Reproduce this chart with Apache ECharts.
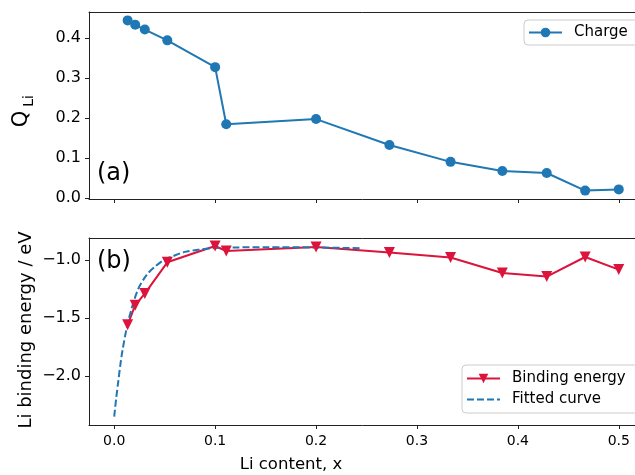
<!DOCTYPE html>
<html>
<head>
<meta charset="utf-8">
<script src="https://cdn.jsdelivr.net/npm/echarts@6/dist/echarts.min.js"></script>
<style>html,body{margin:0;padding:0;background:#fff}#c{width:635px;height:475px}</style>
</head>
<body>
<div id="c"></div>
<script>
// ---- data ----
var liContent = [0.0133, 0.0208, 0.0303, 0.0526, 0.1, 0.111, 0.2, 0.2727, 0.3333, 0.3846, 0.4286, 0.4667, 0.5];
var chargeQ   = [0.444, 0.433, 0.421, 0.394, 0.327, 0.184, 0.197, 0.132, 0.090, 0.067, 0.062, 0.018, 0.021];
var bindingE  = [-1.56, -1.39, -1.29, -1.02, -0.879, -0.922, -0.888, -0.936, -0.979, -1.112, -1.143, -0.974, -1.083];
var fitX = [0, 0.002, 0.004, 0.006, 0.008, 0.0123, 0.0172, 0.0238, 0.032, 0.040, 0.0486, 0.0585, 0.070, 0.085, 0.1, 0.12, 0.15, 0.2, 0.245];
var fitY = [-2.353, -2.19, -2.05, -1.91, -1.79, -1.59, -1.42, -1.25, -1.13, -1.06, -1.003, -0.966, -0.93, -0.91, -0.897, -0.892, -0.889, -0.892, -0.898];
var xTicks = [0, 0.1, 0.2, 0.3, 0.4, 0.5];
var qTicks = [0, 0.1, 0.2, 0.3, 0.4];
var eTicks = [-2.0, -1.5, -1.0];

// ---- chart ----
var FONT = 'DejaVu Sans';
var SPINE = '#222';
function pairs(xs, ys) { return xs.map(function (x, i) { return [x, ys[i]]; }); }
function fmt(v) { return (v < 0 ? '\u2212' : '') + Math.abs(v).toFixed(1); }

var axisCommon = {
  type: 'value',
  splitLine: { show: false },
  axisLine: { show: true, onZero: false, lineStyle: { color: SPINE, width: 1 } },
  axisTick: { show: true, inside: false, length: 4, lineStyle: { color: SPINE, width: 1 } }
};
function xAxis(gi, showLabels) {
  return Object.assign({}, axisCommon, {
    gridIndex: gi, min: -0.025, max: 0.525, position: 'bottom',
    axisTick: Object.assign({}, axisCommon.axisTick, { customValues: xTicks }),
    axisLabel: { show: showLabels, customValues: xTicks, formatter: fmt, fontFamily: FONT, fontSize: 14, color: '#000', margin: 9 }
  });
}
function topSpine(gi) {
  return {
    type: 'value', gridIndex: gi, min: -0.025, max: 0.525, position: 'top',
    splitLine: { show: false }, axisTick: { show: false }, axisLabel: { show: false },
    axisLine: { show: true, onZero: false, lineStyle: { color: SPINE, width: 1 } }
  };
}
function yAxis(gi, mn, mx, ticks) {
  return Object.assign({}, axisCommon, {
    gridIndex: gi, min: mn, max: mx,
    axisTick: Object.assign({}, axisCommon.axisTick, { customValues: ticks }),
    axisLabel: { customValues: ticks, formatter: fmt, fontFamily: FONT, fontSize: 16, color: '#000', margin: 8 }
  });
}
var legendCommon = {
  orient: 'vertical',
  borderColor: '#cccccc', borderWidth: 1, borderRadius: 4,
  backgroundColor: 'rgba(255,255,255,0.8)',
  itemWidth: 33, itemHeight: 12,
  textStyle: { fontFamily: FONT, fontSize: 15, color: '#000', padding: [0, 0, 0, 7] }
};
var gridCommon = { left: 89, width: 555, height: 187, show: false, containLabel: false, outerBoundsMode: 'none' };

var option = {
  animation: false,
  backgroundColor: '#fff',
  grid: [
    Object.assign({}, gridCommon, { top: 12 }),
    Object.assign({}, gridCommon, { top: 238 })
  ],
  xAxis: [xAxis(0, false), xAxis(1, true), topSpine(0), topSpine(1)],
  yAxis: [yAxis(0, -0.003, 0.465, qTicks), yAxis(1, -2.425, -0.81, eTicks)],
  legend: [
    Object.assign({}, legendCommon, { data: ['Charge'], left: 524, top: 20, padding: [5, 16, 5, 4] }),
    Object.assign({}, legendCommon, {
      data: ['Binding energy', { name: 'Fitted curve', itemStyle: { color: 'rgba(0,0,0,0)', borderColor: 'rgba(0,0,0,0)', borderWidth: 0 } }],
      left: 462, top: 365, padding: [6, 16, 6, 4], itemGap: 6
    })
  ],
  series: [
    {
      name: 'Charge', type: 'line', xAxisIndex: 0, yAxisIndex: 0,
      data: pairs(liContent, chargeQ),
      symbol: 'circle', symbolSize: 10,
      lineStyle: { color: '#1f77b4', width: 2 },
      itemStyle: { color: '#1f77b4' }
    },
    {
      name: 'Binding energy', type: 'line', xAxisIndex: 1, yAxisIndex: 1,
      data: pairs(liContent, bindingE),
      symbol: 'triangle', symbolRotate: 180, symbolSize: 11,
      lineStyle: { color: '#dc143c', width: 2 },
      itemStyle: { color: '#dc143c' }
    },
    {
      name: 'Fitted curve', type: 'line', xAxisIndex: 1, yAxisIndex: 1,
      data: pairs(fitX, fitY),
      symbol: 'none', smooth: 0.3,
      lineStyle: { color: '#1f77b4', width: 2, type: [7, 3] },
      itemStyle: { color: '#1f77b4' }
    }
  ],
  graphic: [
    { type: 'text', x: 97, y: 174, style: { text: '(a)', font: '24px "DejaVu Sans"', fill: '#000', textVerticalAlign: 'middle' } },
    { type: 'text', x: 97, y: 262, style: { text: '(b)', font: '24px "DejaVu Sans"', fill: '#000', textVerticalAlign: 'middle' } },
    { type: 'text', x: 22, y: 119, rotation: Math.PI / 2, style: { text: 'Q', font: '21px "DejaVu Sans"', fill: '#000', textAlign: 'center', textVerticalAlign: 'middle' } },
    { type: 'text', x: 29, y: 101, rotation: Math.PI / 2, style: { text: 'Li', font: '14px "DejaVu Sans"', fill: '#000', textAlign: 'center', textVerticalAlign: 'middle' } },
    { type: 'text', x: 26, y: 330, rotation: Math.PI / 2, style: { text: 'Li binding energy / eV', font: '18px "DejaVu Sans"', fill: '#000', textAlign: 'center', textVerticalAlign: 'middle' } },
    { type: 'text', x: 291, y: 465, style: { text: 'Li content, x', font: '16.5px "DejaVu Sans"', fill: '#000', textAlign: 'center', textVerticalAlign: 'middle' } }
  ]
};
var chart = echarts.init(document.getElementById('c'), null, { renderer: 'canvas' });
chart.setOption(option);
</script>
</body>
</html>
